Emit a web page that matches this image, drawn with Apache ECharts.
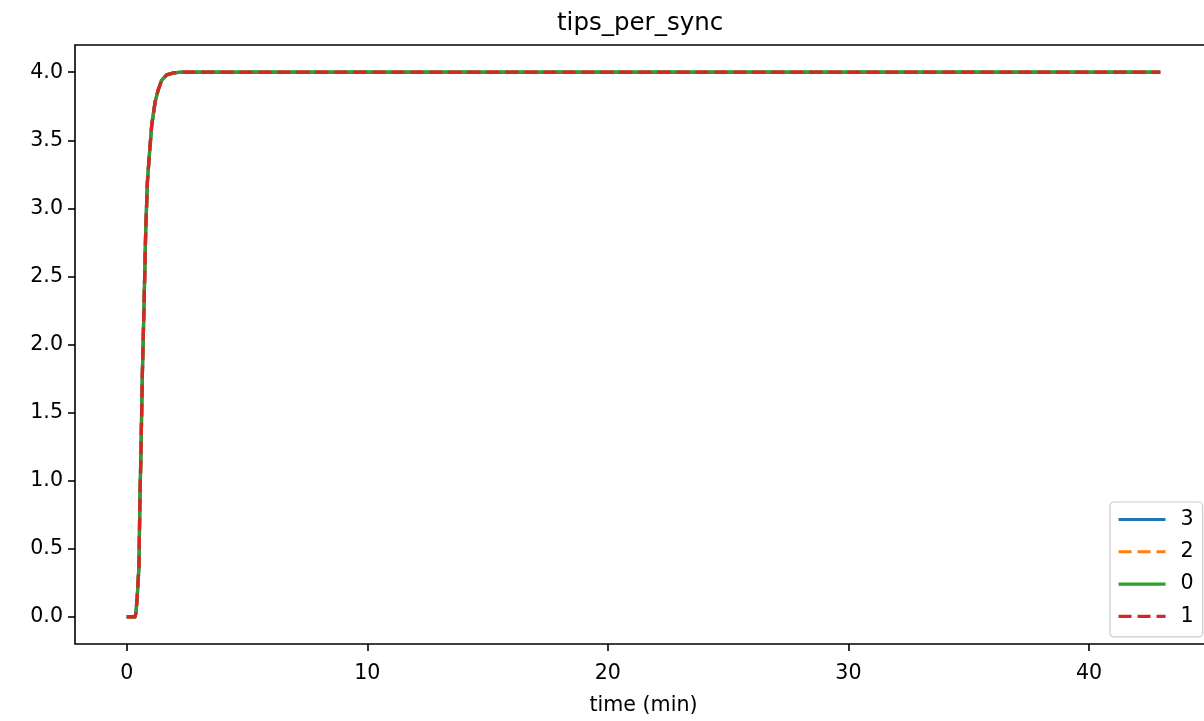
<!DOCTYPE html>
<html>
<head>
<meta charset="utf-8">
<script src="https://cdn.jsdelivr.net/npm/echarts@6/dist/echarts.min.js"></script>
<style>
html,body{margin:0;padding:0;background:#fff;}
#chart{width:1204px;height:721px;}
</style>
</head>
<body>
<div id="chart"></div>
<script>
// ---- data ----
const chartTitle = 'tips_per_sync';
const xAxisTitle = 'time (min)';
const timeMin = [0, 0.35, 0.386, 0.44, 0.51, 0.55, 0.59, 0.65, 0.72, 0.79, 0.86, 0.94, 1.04, 1.18, 1.31, 1.45, 1.66, 1.95, 2.28, 5, 10, 20, 30, 40, 42.96];
const tips3 = [0, 0, 0.03, 0.15, 0.37, 0.86, 1.18, 1.77, 2.28, 2.83, 3.19, 3.39, 3.61, 3.78, 3.87, 3.94, 3.98, 3.995, 4.0, 4.0, 4.0, 4.0, 4.0, 4.0, 4.0];
const tips2 = [0, 0, 0.03, 0.15, 0.37, 0.86, 1.18, 1.77, 2.28, 2.83, 3.19, 3.39, 3.61, 3.78, 3.87, 3.94, 3.98, 3.995, 4.0, 4.0, 4.0, 4.0, 4.0, 4.0, 4.0];
const tips0 = [0, 0, 0.03, 0.15, 0.37, 0.86, 1.18, 1.77, 2.28, 2.83, 3.19, 3.39, 3.61, 3.78, 3.87, 3.94, 3.98, 3.995, 4.0, 4.0, 4.0, 4.0, 4.0, 4.0, 4.0];
const tips1 = [0, 0, 0.03, 0.15, 0.37, 0.86, 1.18, 1.77, 2.28, 2.83, 3.19, 3.39, 3.61, 3.78, 3.87, 3.94, 3.98, 3.995, 4.0, 4.0, 4.0, 4.0, 4.0, 4.0, 4.0];
const seriesNames = ['3', '2', '0', '1'];
const xTicks = [0, 10, 20, 30, 40];
const yTicks = [0, 0.5, 1.0, 1.5, 2.0, 2.5, 3.0, 3.5, 4.0];

// ---- styling ----
const FONT = 'DejaVu Sans';
const colors = ['#1f77b4', '#ff7f0e', '#2ca02c', '#d62728'];
const dashed = [false, true, false, true];
const seriesData = [tips3, tips2, tips0, tips1];

function pairs(xs, ys) { return xs.map((x, i) => [x, ys[i]]); }

const chart = echarts.init(document.getElementById('chart'), null, {renderer: 'canvas'});
const option = {
  animation: false,
  backgroundColor: '#fff',
  title: {
    text: chartTitle,
    left: 557, top: 11, padding: 0,
    textStyle: {fontFamily: FONT, fontSize: 24.5, fontWeight: 'normal', color: '#000'}
  },
  grid: {
    left: 75, top: 45, width: 1137, height: 599,
    outerBoundsMode: 'none',
    containLabel: false,
    show: true, borderColor: '#000', borderWidth: 1.6, backgroundColor: 'transparent'
  },
  legend: {
    orient: 'vertical',
    left: 1110, top: 502,
    padding: [7, 9, 10, 7],
    itemWidth: 47, itemHeight: 20, itemGap: 11.3,
    backgroundColor: '#fff',
    borderColor: '#cccccc', borderWidth: 1.2, borderRadius: 4,
    itemStyle: {opacity: 0, borderWidth: 0},
    lineStyle: {width: 3.1},
    textStyle: {fontFamily: FONT, fontSize: 20.6, color: '#000', lineHeight: 20, padding: [0, 0, 0, 10]},
    data: seriesNames
  },
  xAxis: {
    type: 'value',
    min: -2.148, max: 45.11,
    name: xAxisTitle,
    nameLocation: 'middle',
    nameGap: 51,
    nameTextStyle: {fontFamily: FONT, fontSize: 20.6, color: '#000'},
    axisLine: {show: false, onZero: false},
    splitLine: {show: false},
    axisTick: {show: true, inside: false, length: 7, lineStyle: {color: '#000', width: 1.6}, customValues: xTicks},
    axisLabel: {show: true, margin: 19, fontFamily: FONT, fontSize: 20.6, color: '#000', customValues: xTicks,
      formatter: v => String(v)}
  },
  yAxis: {
    type: 'value',
    min: -0.2, max: 4.2,
    axisLine: {show: false, onZero: false},
    splitLine: {show: false},
    axisTick: {show: true, inside: false, length: 7, lineStyle: {color: '#000', width: 1.6}, customValues: yTicks},
    axisLabel: {show: true, margin: 12, padding: [5, 0, 0, 0], fontFamily: FONT, fontSize: 20.6, color: '#000', customValues: yTicks,
      formatter: v => Number(v).toFixed(1)}
  },
  series: seriesNames.map((n, i) => ({
    name: n,
    type: 'line',
    data: pairs(timeMin, seriesData[i]),
    symbol: 'none',
    showSymbol: false,
    smooth: false,
    color: colors[i],
    lineStyle: {color: colors[i], width: 3.3, type: dashed[i] ? [13, 6] : 'solid', cap: 'butt', join: 'round'},
    emphasis: {disabled: true}
  }))
};
chart.setOption(option);
</script>
</body>
</html>
